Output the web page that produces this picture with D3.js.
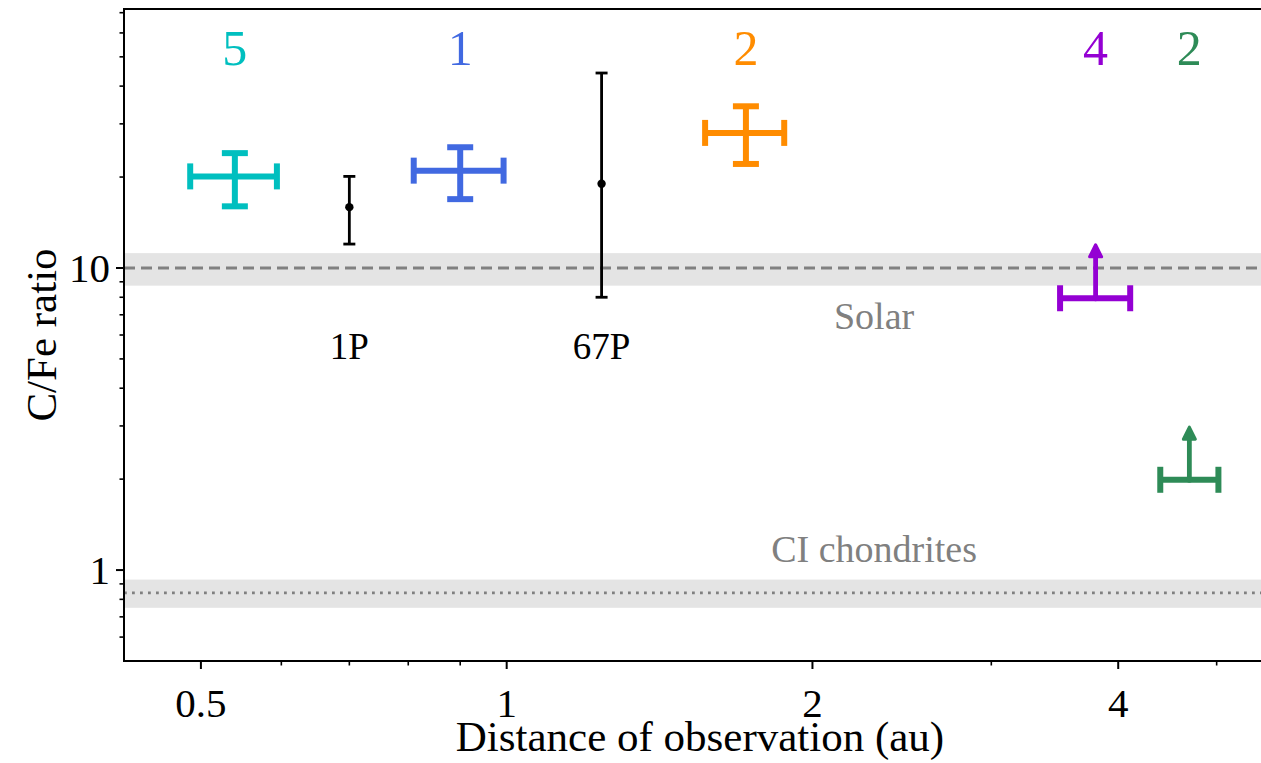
<!DOCTYPE html>
<html>
<head>
<meta charset="utf-8">
<script src="https://cdn.jsdelivr.net/npm/d3@7/dist/d3.min.js"></script>
<style>
  html, body { margin: 0; padding: 0; background: #fff; }
  svg { display: block; }
  text { font-family: "Liberation Serif", "DejaVu Serif", serif; }
</style>
</head>
<body>
<svg id="chart" width="1261" height="763"></svg>
<script>
// ---------- data ----------
const groupNames   = ["g5", "g1", "g2a", "g4", "g2b"];
const groupColors  = ["#00BFBF", "#4169E1", "#FF8C00", "#9400D3", "#2E8B57"];
const groupCounts  = ["5", "1", "2", "4", "2"];
const groupX       = [0.54, 0.90, 1.72, 3.80, 4.70];
const groupXLow    = [0.488, 0.81, 1.568, 3.506, 4.40];
const groupXHigh   = [0.594, 0.993, 1.876, 4.11, 5.02];
const groupY       = [20.1, 21.0, 28.0, 7.94, 1.99];
const groupYLow    = [16.0, 16.9, 22.1, null, null];
const groupYHigh   = [24.0, 25.1, 34.3, 11.4, 2.84];
const groupIsLowerLimit = [false, false, false, true, true];

const cometNames = ["1P", "67P"];
const cometX     = [0.70, 1.24];
const cometY     = [15.9, 19.0];
const cometYLow  = [12.0, 8.0];
const cometYHigh = [20.1, 44.2];

const solarValue = 10.0, solarLow = 8.74, solarHigh = 11.2;
const ciValue = 0.84, ciLow = 0.75, ciHigh = 0.93;

const xMajorTicks = [0.5, 1, 2, 4];
const xMajorLabels = ["0.5", "1", "2", "4"];
const xMinorTicks = [0.6, 0.7, 0.8, 0.9, 3, 5];
const yMajorTicks = [1, 10];
const yMajorLabels = ["1", "10"];
const yMinorTicks = [0.6, 0.7, 0.8, 0.9, 2, 3, 4, 5, 6, 7, 8, 9, 20, 30, 40, 50, 60, 70];

const xDomain = [0.42, 5.72];
const yDomain = [0.5, 72];

// ---------- layout ----------
const pL = 124, pR = 1276, pT = 9, pB = 661;
const svg = d3.select("#chart");
const x = d3.scaleLog().domain(xDomain).range([pL, pR]);
const y = d3.scaleLog().domain(yDomain).range([pB, pT]);

const defs = svg.append("defs");
defs.append("clipPath").attr("id", "plotclip")
  .append("rect").attr("x", pL).attr("y", pT).attr("width", pR - pL).attr("height", pB - pT);

const plot = svg.append("g").attr("clip-path", "url(#plotclip)");

// reference bands
const bands = [
  {lo: solarLow, hi: solarHigh, v: solarValue, dash: "11,6", w: 2.8},
  {lo: ciLow, hi: ciHigh, v: ciValue, dash: "2.8,5.2", w: 2.8}
];
bands.forEach(b => {
  plot.append("rect")
    .attr("x", pL).attr("width", pR - pL)
    .attr("y", y(b.hi)).attr("height", y(b.lo) - y(b.hi))
    .attr("fill", "#e4e4e4");
  plot.append("line")
    .attr("x1", pL).attr("x2", pR)
    .attr("y1", y(b.v)).attr("y2", y(b.v))
    .attr("stroke", "#808080").attr("stroke-width", b.w)
    .attr("stroke-dasharray", b.dash);
});

// band labels
svg.append("text").attr("x", x(2.3)).attr("y", y(6.3))
  .attr("text-anchor", "middle").attr("font-size", 38).attr("fill", "#808080").text("Solar");
svg.append("text").attr("x", x(2.3)).attr("y", y(1.06))
  .attr("text-anchor", "middle").attr("font-size", 38).attr("fill", "#808080").text("CI chondrites");

// comets (black error bars)
cometNames.forEach((n, i) => {
  const g = plot.append("g").attr("stroke", "#000").attr("stroke-width", 2.8);
  const cx = x(cometX[i]);
  g.append("line").attr("x1", cx).attr("x2", cx).attr("y1", y(cometYLow[i])).attr("y2", y(cometYHigh[i]));
  [cometYLow[i], cometYHigh[i]].forEach(v => {
    g.append("line").attr("x1", cx - 6).attr("x2", cx + 6).attr("y1", y(v)).attr("y2", y(v));
  });
  plot.append("circle").attr("cx", cx).attr("cy", y(cometY[i])).attr("r", 4.2).attr("fill", "#000");
  svg.append("text").attr("x", cx).attr("y", y(5.0))
    .attr("text-anchor", "middle").attr("font-size", 37).attr("fill", "#000").text(n);
});

// groups (coloured error bars)
const cap = 13, lw = 6;
groupNames.forEach((n, i) => {
  const col = groupColors[i];
  const g = plot.append("g").attr("stroke", col).attr("stroke-width", lw).attr("fill", "none");
  const cx = x(groupX[i]), cy = y(groupY[i]);
  // horizontal
  g.append("line").attr("x1", x(groupXLow[i])).attr("x2", x(groupXHigh[i])).attr("y1", cy).attr("y2", cy);
  [groupXLow[i], groupXHigh[i]].forEach(v => {
    g.append("line").attr("x1", x(v)).attr("x2", x(v)).attr("y1", cy - cap).attr("y2", cy + cap);
  });
  if (!groupIsLowerLimit[i]) {
    g.append("line").attr("x1", cx).attr("x2", cx).attr("y1", y(groupYLow[i])).attr("y2", y(groupYHigh[i]));
    [groupYLow[i], groupYHigh[i]].forEach(v => {
      g.append("line").attr("x1", cx - cap).attr("x2", cx + cap).attr("y1", y(v)).attr("y2", y(v));
    });
  } else {
    const ty = y(groupYHigh[i]);
    g.append("line").attr("x1", cx).attr("x2", cx).attr("y1", cy).attr("y2", ty).attr("stroke-width", 4.8);
    plot.append("path")
      .attr("d", `M${cx},${ty - 6} L${cx + 6},${ty + 6} L${cx - 6},${ty + 6} Z`)
      .attr("fill", col).attr("stroke", col).attr("stroke-width", 3).attr("stroke-linejoin", "round");
    plot.append("circle").attr("cx", cx).attr("cy", cy).attr("r", 3).attr("fill", col);
  }
  svg.append("text").attr("x", cx).attr("y", y(47))
    .attr("text-anchor", "middle").attr("font-size", 50).attr("fill", col).text(groupCounts[i]);
});

// ---------- axes ----------
const ax = svg.append("g").attr("stroke", "#000");
// spines
ax.append("line").attr("x1", pL).attr("x2", pL).attr("y1", pT).attr("y2", pB + 1).attr("stroke-width", 2);
ax.append("line").attr("x1", pL - 1).attr("x2", pR).attr("y1", pB).attr("y2", pB).attr("stroke-width", 2);
ax.append("line").attr("x1", pL - 1).attr("x2", pR).attr("y1", pT).attr("y2", pT).attr("stroke-width", 2);
ax.append("line").attr("x1", pR).attr("x2", pR).attr("y1", pT).attr("y2", pB).attr("stroke-width", 2);

// x ticks
xMajorTicks.forEach((t, i) => {
  ax.append("line").attr("x1", x(t)).attr("x2", x(t)).attr("y1", pB).attr("y2", pB + 8).attr("stroke-width", 2);
  svg.append("text").attr("x", x(t)).attr("y", 717).attr("text-anchor", "middle")
    .attr("font-size", 41).attr("fill", "#000").text(xMajorLabels[i]);
});
xMinorTicks.forEach(t => {
  ax.append("line").attr("x1", x(t)).attr("x2", x(t)).attr("y1", pB).attr("y2", pB + 4.5).attr("stroke-width", 1.6);
});
// y ticks
yMajorTicks.forEach((t, i) => {
  ax.append("line").attr("x1", pL - 8).attr("x2", pL).attr("y1", y(t)).attr("y2", y(t)).attr("stroke-width", 2);
  svg.append("text").attr("x", pL - 14).attr("y", y(t)).attr("dy", "0.35em").attr("text-anchor", "end")
    .attr("font-size", 41).attr("fill", "#000").text(yMajorLabels[i]);
});
yMinorTicks.forEach(t => {
  ax.append("line").attr("x1", pL - 4.5).attr("x2", pL).attr("y1", y(t)).attr("y2", y(t)).attr("stroke-width", 1.6);
});

// axis labels
svg.append("text").attr("x", (pL + pR) / 2).attr("y", 751).attr("text-anchor", "middle")
  .attr("font-size", 43).attr("fill", "#000").text("Distance of observation (au)");
svg.append("text").attr("transform", `translate(56,${(pT + pB) / 2}) rotate(-90)`)
  .attr("text-anchor", "middle").attr("font-size", 43).attr("fill", "#000").text("C/Fe ratio");
</script>
</body>
</html>
